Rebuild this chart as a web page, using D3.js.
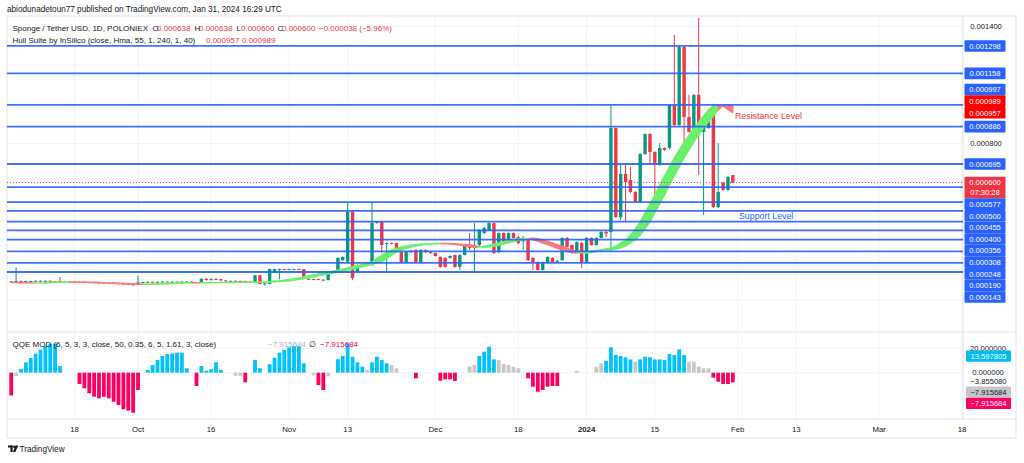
<!DOCTYPE html>
<html><head><meta charset="utf-8">
<script src="https://cdn.jsdelivr.net/npm/d3@7"></script>
<style>
body{margin:0;background:#fff;}
svg{display:block;font-family:"Liberation Sans",Arial,sans-serif;}
</style>
</head><body>
<svg id="c" width="1024" height="463"></svg>
<script>
// ---------- DATA (prices in millionths of USDT: 93 => 0.000093) ----------
const firstDay = "2023-09-05";
const open = [95,90,97,96,97,97,98,97,98,97, 96,92,94,93,91,92,90,91,89,90, 88,89,86,84,82,80,79,90,92,93,
 92,93,94,93,94,93,94,94,92,89, 108,102,107,107,100,97,98,96,97,95, 94,126,82,82,145,157,158,158,157,158,
 157,108,106,107,104,102,140,143,204,196, 451,143,178,182,179,393,399,291,291,291, 245,194,245,256,194,256,245,240,220,215,
 215,230,169,230,276,266,281,342,358,393, 245,342,296,342,322,300,307,215,194,153, 194,215,199,204,317,281,245,291,194,317,
 281,317,348,348,879,424,644,613,552,501, 746,848,756,690,777,777,996,894,1293,935, 859,1048,859,879,945,475,598,562,638];
const close = [90,97,96,97,97,98,97,98,97,96, 92,94,93,91,92,90,91,89,90,88, 89,86,84,82,80,79,90,92,93,92,
 93,94,93,94,93,94,94,92,89,108, 102,107,106,100,97,98,96,97,95,94, 126,82,85,158,158,158,157,158,158,157,
 108,106,107,104,103,143,145,215,220,451, 112,179,182,186,393,399,281,291,290,245, 194,245,250,194,256,245,240,225,169,169,
 225,169,230,276,266,281,358,368,393,240, 342,291,342,317,291,305,204,194,153,194, 220,194,200,317,271,245,296,194,317,281,
 317,348,340,879,424,644,603,552,501,746, 848,756,690,777,767,996,894,1293,935,859, 1048,859,884,945,475,552,562,629,600];
const high = [97,166,99,98,98,99,100,99,100,98, 118,95,95,94,93,93,92,92,91,91, 90,90,88,86,84,82,125,93,94,94,
 94,95,95,95,95,95,96,95,93,112, 112,110,112,108,101,99,99,98,98,96, 128,128,88,160,160,160,159,160,159,159,
 158,110,108,108,106,145,148,218,224,497, 455,182,190,192,497,402,402,293,293,293, 247,250,256,258,260,258,248,242,222,218,
 228,232,232,280,342,393,362,372,396,396, 345,345,345,345,327,327,312,218,197,197, 223,218,203,320,322,284,300,296,322,320,
 320,352,352,996,882,690,690,680,556,750, 852,852,760,802,780,998,1354,1303,1298,1048, 1052,1441,888,950,950,802,605,633,638];
const low = [88,88,94,94,95,96,96,95,96,95, 90,90,91,90,89,89,88,88,87,87, 86,85,82,80,78,76,77,88,90,91,
 91,92,92,92,92,92,92,91,88,88, 100,100,104,98,96,96,95,95,94,93, 92,80,74,80,143,105,156,157,156,156,
 106,105,104,103,100,100,138,140,200,194, 102,140,172,178,176,390,240,143,285,243, 190,190,240,190,190,240,236,222,165,165,
 212,165,153,228,255,138,276,338,355,235, 240,288,292,314,286,256,200,153,150,150, 190,190,196,200,268,240,242,164,190,278,
 278,314,322,245,420,408,399,545,497,497, 742,690,450,686,762,772,890,890,802,855, 855,639,435,875,470,470,558,558,600];
// Hull Suite (HMA 55) value per day
const hull = [90,89,88,87.5,87, 87.5,88,89,90,91,92, 92.5,92.5,92,
 91.5,91,90,89,88,87,86,85,84,83,82,81,80,
 80.5,81,82,83,84,85,86,87,88,88.5, 88.3,88,
 88.2,88.5,88.8,89,89.3,89.6,90,90.2,90.4,90.6,90.8,91, 91.5,92.5,
 94,96,98,101,105,109,113,118,123,128,133,138,143,148,153,158,164,170,176,182,188,194,
 212,229,245,255,264,271,276,280,284,286,287,288,289,289.5,
 288,286,284,281,277,273,269,
 271,275,280,286,292,298,304,309,313,316,
 314,308,300,292,283,274,264,255,247,241,240,
 243,247,251,254,257,261,266,276,291,307,332,363,399,445,491,537,588,634,680,726,767,807,843,879,910,940,971,993,998,989,974,957];
// QQE MOD histogram value and trend state (1 up, -1 down, 0 neutral)
const qqe = [-18.7,-2.8,3,8.5,12,15.6,18.8,22,23.7,23.7, 5.5,0,0,0,-9.3,-12.8,-16.9,-19.7,-21,-19.7,
 -21,-23.8,-26.5,-30,-31.1,-32.8,-14.2,0,2.2,6.3, 10.4,13.7,15.3,15.8,16.4,16.4,3.6,0,-10.9,5.5,
 1.7,2.8,8.5,2.2,0,0,-2.5,-2.5,-7.9,0, 10.4,3.6,0,6.9,12.3,16.4,18.6,20.8,21.9,21.9,
 7.7,0,-2,-10.1,-14.2,-3,0,11,13.7,24.1, 13.1,8.5,4.9,2.5,8.5,13.1,10.4,7.7,6.3,3.6,
 0,0,0,-4.6,0,0,0,0,-6.6,-5.5, -5.5,-6.8,0,0,4.9,6.3,13.7,17.2,21.3,10.9,
 10.4,7.1,6.3,4.9,3.6,0,-4.6,-11.5,-15.6,-14.2, -11.5,-10.9,-10.9,0,0,0,1.5,0,0,0,
 4.9,7.7,9.8,20.8,14.5,13.7,12.6,10.9,9,10.9, 13.1,12.6,10.9,10.9,10.4,15.3,14.5,19.1,14.5,9,
 9,4.9,3.6,3.6,-4.1,-7.4,-9.3,-9.3,-7.9];
const qqeState = [-1,0,1,1,1,1,1,1,1,1, 1,0,0,0,-1,-1,-1,-1,-1,-1, -1,-1,-1,-1,-1,-1,-1,0,1,1,
 1,1,1,1,1,1,1,0,-1,1, 1,1,1,1,0,0,0,0,-1,0, 1,1,0,1,1,1,1,1,1,1,
 1,0,0,-1,-1,0,0,1,1,1, 1,1,1,0,1,1,1,1,0,0, 0,0,0,-1,0,0,0,0,-1,-1,
 -1,-1,0,0,0,0,1,1,1,1, 0,0,0,0,0,0,-1,-1,-1,-1, -1,-1,-1,0,0,0,0,0,0,0,
 0,0,1,1,1,1,1,1,0,1, 1,1,1,1,1,1,1,1,1,0, 0,0,0,0,-1,-1,-1,-1,-1];
// horizontal level drawings
const levels = [1298,1158,997,886,695,577,500,455,400,356,308,248,190,143];
const priceTicks = [0,200,400,600,800,1000,1200,1400];
const qqeTicks = [20,0];
const qqeLabels = [13.597805,-3.855080,-7.915684,-7.915684];
const dateTicks = [["2023-09-18","18"],["2023-10-01","Oct"],["2023-10-16","16"],["2023-11-01","Nov"],["2023-11-13","13"],
 ["2023-12-01","Dec"],["2023-12-18","18"],["2024-01-01","2024"],["2024-01-15","15"],["2024-02-01","Feb"],
 ["2024-02-13","13"],["2024-03-01","Mar"],["2024-03-18","18"]];
const countdown = "07:30:28";

// ---------- LAYOUT ----------
const svg = d3.select("#c");
const L = 7, R = 963, AX = 1016, topY = 16, paneBot = 332, qBot = 419, bottomY = 438;
const UP = "#089981", DN = "#f23645", TXT = "#131722";
const fmt = v => (v * 1e-6).toFixed(6);
const parse = s => new Date(s + "T00:00:00Z");
const t0 = parse(firstDay);
const n = close.length;
const dates = d3.range(n).map(i => d3.utcDay.offset(t0, i));

const x = d3.scaleUtc().domain([parse("2023-10-01"), parse("2024-03-18")]).range([138, 962]);
const y = d3.scaleLinear().domain([0, 1400]).range([300, 26]);
const yq = d3.scaleLinear().domain([0, 20]).range([372.7, 348.3]);

const defs = svg.append("defs");
defs.append("clipPath").attr("id", "cp").append("rect").attr("x", L).attr("y", topY).attr("width", R - L).attr("height", paneBot - topY);
defs.append("clipPath").attr("id", "cq").append("rect").attr("x", L).attr("y", paneBot).attr("width", R - L).attr("height", qBot - paneBot);

// header
svg.append("text").attr("x", 7).attr("y", 11.5).attr("font-size", 8.2).attr("fill", TXT)
  .text("abiodunadetoun77 published on TradingView.com, Jan 31, 2024 16:29 UTC");

// grid
const grid = svg.append("g").attr("stroke", "#f0f3fa").attr("stroke-width", 1);
grid.selectAll("line.v").data(dateTicks).join("line")
  .attr("x1", d => x(parse(d[0]))).attr("x2", d => x(parse(d[0]))).attr("y1", topY).attr("y2", qBot);
grid.selectAll("line.h").data(priceTicks).join("line")
  .attr("x1", L).attr("x2", R).attr("y1", d => y(d)).attr("y2", d => y(d));
grid.selectAll("line.q").data(qqeTicks).join("line")
  .attr("x1", L).attr("x2", R).attr("y1", d => yq(d)).attr("y2", d => yq(d));

// frame
const fr = svg.append("g").attr("fill", "none").attr("stroke", "#e0e3eb");
fr.append("rect").attr("x", L).attr("y", topY).attr("width", AX - L).attr("height", bottomY - topY);
fr.append("line").attr("x1", L).attr("x2", AX).attr("y1", paneBot).attr("y2", paneBot);
fr.append("line").attr("x1", L).attr("x2", AX).attr("y1", qBot).attr("y2", qBot);
fr.append("line").attr("x1", R).attr("x2", R).attr("y1", topY).attr("y2", qBot);

// candles
const pg = svg.append("g").attr("clip-path", "url(#cp)");
const idx = d3.range(n);
const col = i => close[i] >= open[i] ? UP : DN;
pg.append("g").selectAll("line").data(idx).join("line")
  .attr("x1", i => x(dates[i])).attr("x2", i => x(dates[i]))
  .attr("y1", i => y(high[i])).attr("y2", i => y(low[i]))
  .attr("stroke", col).attr("stroke-width", 1);
const bw = 3.4;
pg.append("g").selectAll("rect").data(idx).join("rect")
  .attr("x", i => x(dates[i]) - bw / 2).attr("width", bw)
  .attr("y", i => y(Math.max(open[i], close[i])))
  .attr("height", i => Math.max(1, Math.abs(y(open[i]) - y(close[i]))))
  .attr("fill", col);

// hull band
const hg = svg.append("g").attr("clip-path", "url(#cp)");
const h2 = i => hull[Math.max(0, i - 2)];
for (let i = 1; i < n; i++) {
  const a = i - 1;
  const c = hull[i] > h2(i) ? "#6cf06c" : "#f77a7e";
  const p = d3.path();
  p.moveTo(x(dates[a]), y(hull[a])); p.lineTo(x(dates[i]), y(hull[i]));
  p.lineTo(x(dates[i]), y(h2(i))); p.lineTo(x(dates[a]), y(h2(a))); p.closePath();
  hg.append("path").attr("d", p.toString()).attr("fill", c).attr("stroke", c)
    .attr("stroke-width", 1.3).attr("stroke-linejoin", "round");
}

// level lines
const lg = svg.append("g");
lg.selectAll("line").data(levels).join("line")
  .attr("x1", L).attr("x2", R).attr("y1", d => y(d)).attr("y2", d => y(d))
  .attr("stroke", "#2962ff").attr("stroke-width", 1.8).attr("opacity", 0.9);
// current price line
svg.append("line").attr("x1", L).attr("x2", R).attr("y1", y(close[n - 1])).attr("y2", y(close[n - 1]))
  .attr("stroke", DN).attr("stroke-width", 1).attr("stroke-dasharray", "1,2");

// annotations
svg.append("text").attr("x", 735).attr("y", 119).attr("font-size", 8.8).attr("fill", DN).text("Resistance Level");
svg.append("text").attr("x", 739).attr("y", 219).attr("font-size", 8.8).attr("fill", "#2962ff").text("Support Level");

// legends
function segText(yb, segs, size) {
  const t = svg.append("text").attr("y", yb).attr("font-size", size);
  segs.forEach(s => t.append("tspan").attr("x", s[0]).attr("fill", s[2]).text(s[1]));
}
svg.append("rect").attr("x", 9).attr("y", 21).attr("width", 382).attr("height", 24).attr("fill", "#fff").attr("opacity", 0.92);
const lastO = open[n - 1], lastC = close[n - 1];
const chg = lastC - lastO;
segText(31, [[12.5, "Sponge / Tether USD, 1D, POLONIEX", TXT], [152.5, "O", TXT], [157, fmt(open[n - 1]), DN],
  [194.5, "H", TXT], [199, fmt(high[n - 1]), DN], [236.5, "L", TXT], [241, fmt(low[n - 1]), DN],
  [277.5, "C", TXT], [282, fmt(lastC), DN],
  [319, "\u2212" + fmt(Math.abs(chg)) + " (\u2212" + (Math.abs(chg) / lastO * 100).toFixed(2) + "%)", DN]], 8);
segText(43, [[12.5, "Hull Suite by InSilico (close, Hma, 55, 1, 240, 1, 40)", TXT], [206, fmt(hull[n - 1]), DN], [242, fmt(hull[n - 3]), DN]], 8);

// QQE pane
const qg = svg.append("g").attr("clip-path", "url(#cq)");
const qc = s => s > 0 ? "#00c3ff" : s < 0 ? "#ff0062" : "#c8c8c8";
qg.selectAll("rect").data(idx.filter(i => qqe[i] !== 0)).join("rect")
  .attr("x", i => x(dates[i]) - 1.9).attr("width", 3.8)
  .attr("y", i => Math.min(yq(0), yq(qqe[i])))
  .attr("height", i => Math.abs(yq(qqe[i]) - yq(0)))
  .attr("fill", i => qc(qqeState[i]));
segText(346.5, [[12.5, "QQE MOD (6, 5, 3, 3, close, 50, 0.35, 6, 5, 1.61, 3, close)", TXT],
  [268, "\u2212" + Math.abs(qqeLabels[2]).toFixed(6), "#b2b5be"], [309, "\u2205", TXT],
  [320, "\u2212" + Math.abs(qqeLabels[3]).toFixed(6), "#ff0062"]], 8);

// price labels with overlap stacking
function stack(list, lh) {
  list.forEach(l => { l.c = l.ideal; if (l.above === undefined) { l.above = lh / 2; l.below = lh / 2 + (l.lines.length - 1) * 10; } });
  list.sort((a, b) => a.ideal - b.ideal);
  let bot = null;
  list.forEach(l => {
    if (l.fixed) { bot = l.c + l.below; return; }
    if (bot !== null) { l.c = Math.max(l.c, bot + l.above); bot = l.c + l.below; }
  });
  let tp = null;
  list.slice().reverse().forEach(l => {
    if (l.fixed) { tp = l.c - l.above; return; }
    if (tp !== null) { l.c = Math.min(l.c, tp - l.below); tp = l.c - l.above; }
  });
}
const labs = levels.map(v => ({ ideal: y(v), lines: [fmt(v)], fill: "#2962ff", color: "#fff" }));
labs.push({ ideal: y(lastC), lines: [fmt(lastC), countdown], fill: DN, color: "#fff", fixed: true });
labs.push({ ideal: y(hull[n - 1]), lines: [fmt(hull[n - 1])], fill: "#ff0000", color: "#fff", fixed: true });
labs.push({ ideal: y(hull[n - 3]), lines: [fmt(hull[n - 3])], fill: "#ff0000", color: "#fff" });
stack(labs, 11.6);
function drawLabels(list, x0, w, size) {
  const g = svg.append("g").attr("font-size", size).attr("text-anchor", "middle");
  list.filter(l => l.lines.length).forEach(l => {
    g.append("rect").attr("x", x0).attr("width", w).attr("y", l.c - l.above)
      .attr("height", l.above + l.below).attr("fill", l.fill).attr("rx", 1);
    l.lines.forEach((s, k) => g.append("text").attr("x", x0 + w / 2).attr("y", l.c + 2.8 + k * 10)
      .attr("fill", l.color).text(s));
  });
}
// axis ticks hidden where a label covers them (as the platform does)
const free = (yy, list) => list.every(l => !l.lines.length || yy + 3.5 < l.c - l.above || yy - 3.5 > l.c + l.below);
const ax = svg.append("g").attr("font-size", 7.6).attr("text-anchor", "middle");
ax.selectAll("text.p").data(priceTicks.filter(d => free(y(d), labs))).join("text")
  .attr("x", 986).attr("y", d => y(d) + 2.8).attr("fill", TXT).text(d => fmt(d));
drawLabels(labs, 964.5, 41, 7.6);

// QQE labels (tick text acts as an obstacle)
const qlabs = [
  { ideal: yq(0), lines: [], fixed: true, above: 2.5, below: 2.5 },
  { ideal: yq(qqeLabels[0]), lines: [qqeLabels[0].toFixed(6)], fill: "#00bcf2", color: "#fff", fixed: true },
  { ideal: yq(qqeLabels[1]), lines: ["\u2212" + Math.abs(qqeLabels[1]).toFixed(6)], fill: "#fff", color: TXT },
  { ideal: yq(qqeLabels[2]) + 0.01, lines: ["\u2212" + Math.abs(qqeLabels[2]).toFixed(6)], fill: "#c4c6cc", color: TXT },
  { ideal: yq(qqeLabels[3]) + 0.02, lines: ["\u2212" + Math.abs(qqeLabels[3]).toFixed(6)], fill: "#ff0062", color: "#fff" }];
stack(qlabs, 11.3);
ax.selectAll("text.q").data(qqeTicks).join("text")
  .attr("x", 988).attr("y", d => yq(d) + 2.3).attr("fill", TXT).text(d => d.toFixed(6));
drawLabels(qlabs, 966, 45, 7.6);

// time axis
svg.append("g").attr("font-size", 7.8).attr("text-anchor", "middle").selectAll("text").data(dateTicks).join("text")
  .attr("x", d => x(parse(d[0]))).attr("y", 432).attr("fill", TXT)
  .attr("font-weight", d => d[1] === "2024" ? "bold" : null).text(d => d[1]);

// TradingView logo
const lo = svg.append("g").attr("fill", TXT);
lo.append("rect").attr("x", 8).attr("y", 445.5).attr("width", 4.6).attr("height", 2);
lo.append("rect").attr("x", 10.4).attr("y", 445.5).attr("width", 2.2).attr("height", 6.5);
lo.append("circle").attr("cx", 14.3).attr("cy", 446.8).attr("r", 1.2);
lo.append("path").attr("d", "M15.6,445.5 L18.2,445.5 L15.4,452 L12.9,452 Z");
svg.append("text").attr("x", 19.5).attr("y", 452).attr("font-size", 8.2).attr("fill", TXT).text("TradingView");
</script>
</body></html>
